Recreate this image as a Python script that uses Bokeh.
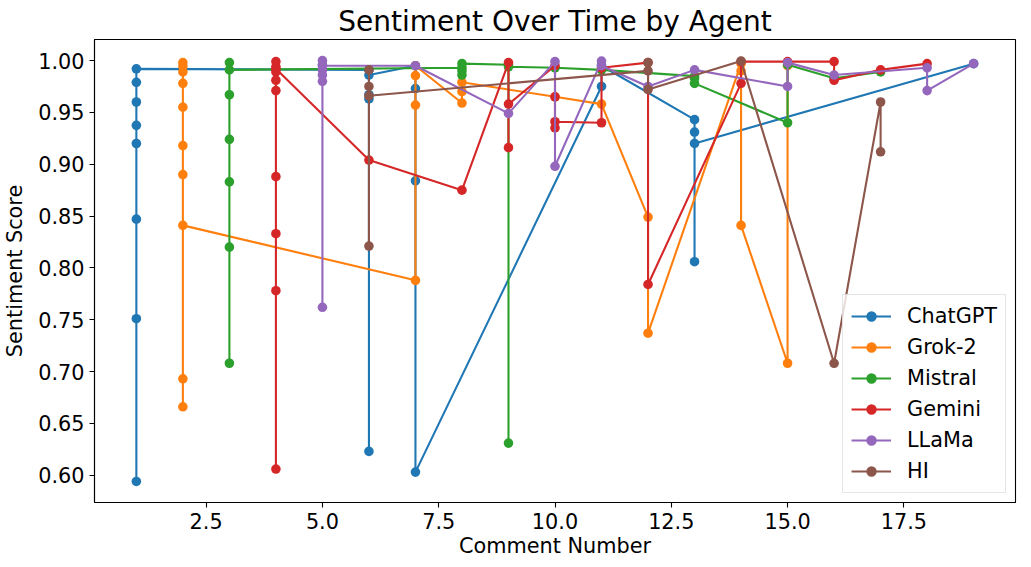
from bokeh.plotting import figure
from bokeh.models import FixedTicker, NumeralTickFormatter, Range1d
from bokeh.embed import file_html
from bokeh.resources import INLINE

agents = ["ChatGPT", "Grok-2", "Mistral", "Gemini", "LLaMa", "HI"]
colors = ["#1f77b4", "#ff7f0e", "#2ca02c", "#d62728", "#9467bd", "#8c564b"]

chatgpt_x = [1]*8 + [6]*5 + [7]*4 + [11]*2 + [13]*4 + [19]
chatgpt_y = [0.594, 0.751, 0.847, 0.920, 0.9375, 0.960, 0.979, 0.992,
             0.991, 0.623, 0.963, 0.967, 0.986,
             0.995, 0.973, 0.884, 0.603,
             0.975, 0.995,
             0.943, 0.931, 0.806, 0.920,
             0.997]

grok_x = [2]*10 + [7]*4 + [8]*3 + [10] + [11] + [12]*2 + [14]*3 + [15]*2
grok_y = [0.998, 0.9945, 0.989, 0.978, 0.955, 0.918, 0.890, 0.693, 0.666, 0.841,
          0.788, 0.957, 0.9855, 0.995,
          0.959, 0.970, 0.979,
          0.965,
          0.958,
          0.849, 0.737,
          0.997, 0.990, 0.841,
          0.708, 0.995]

mistral_x = [3]*7 + [8]*4 + [9]*3 + [10] + [11] + [13]*3 + [15]*2 + [16] + [17]
mistral_y = [0.998, 0.967, 0.924, 0.883, 0.820, 0.708, 0.991,
             0.993, 0.986, 0.990, 0.997,
             0.996, 0.631, 0.994,
             0.993,
             0.991,
             0.985, 0.983, 0.978,
             0.940, 0.996,
             0.983,
             0.989]

gemini_x = [4]*10 + [6] + [8] + [9]*3 + [10]*4 + [11]*2 + [12]*2 + [14]*2 + [15] + [16]*2 + [17] + [18]
gemini_y = [0.999, 0.994, 0.989, 0.981, 0.971, 0.888, 0.833, 0.778, 0.606, 0.992,
            0.904,
            0.875,
            0.998, 0.916, 0.958,
            0.995, 0.935, 0.965, 0.941,
            0.940, 0.993,
            0.998, 0.784,
            0.978, 0.999,
            0.999,
            0.999, 0.981,
            0.991,
            0.997]

llama_x = [5]*7 + [7] + [9] + [10]*2 + [11]*2 + [12] + [13] + [15]*2 + [16] + [18]*2 + [19]
llama_y = [1.000, 0.996, 0.991, 0.986, 0.980, 0.762, 0.995,
           0.995,
           0.949,
           0.999, 0.898,
           0.9995, 0.995,
           0.975,
           0.991,
           0.975, 0.998,
           0.986,
           0.993, 0.971,
           0.997]

hi_x = [6]*4 + [12]*3 + [14] + [16] + [17]*2
hi_y = [0.991, 0.821, 0.975, 0.966,
        0.990, 0.998, 0.972,
        0.9995,
        0.708,
        0.960, 0.912]

series_x = [chatgpt_x, grok_x, mistral_x, gemini_x, llama_x, hi_x]
series_y = [chatgpt_y, grok_y, mistral_y, gemini_y, llama_y, hi_y]

x_ticks = [2.5, 5.0, 7.5, 10.0, 12.5, 15.0, 17.5]
y_ticks = [0.60, 0.65, 0.70, 0.75, 0.80, 0.85, 0.90, 0.95, 1.00]

FONT = "DejaVu Sans"

p = figure(width=1018, height=565, output_backend="svg", toolbar_location=None,
           title="Sentiment Over Time by Agent",
           x_range=Range1d(0.1, 19.9), y_range=Range1d(0.5737, 1.0203),
           min_border_left=84, min_border_right=3, min_border_top=32, min_border_bottom=63)

p.title.text_font = FONT
p.title.text_font_size = "28px"
p.title.text_font_style = "normal"
p.title.align = "center"
p.title.text_color = "black"
p.title.standoff = 4

for name, col, xs, ys in zip(agents, colors, series_x, series_y):
    p.line(xs, ys, line_color=col, line_width=2.1, legend_label=name)
    p.scatter(xs, ys, marker="circle", size=9.6, fill_color=col, line_color=col,
              line_width=0, legend_label=name)

p.xgrid.visible = False
p.ygrid.visible = False
p.outline_line_color = "black"
p.outline_line_width = 1.1
p.outline_line_alpha = 1.0

for ax in (p.xaxis[0], p.yaxis[0]):
    ax.axis_line_color = "black"
    ax.axis_line_width = 1.1
    ax.major_tick_line_color = "black"
    ax.major_tick_line_width = 1.1
    ax.major_tick_out = 5
    ax.major_tick_in = 0
    ax.minor_tick_line_color = None
    ax.major_label_text_font = FONT
    ax.major_label_text_font_size = "20.8px"
    ax.major_label_text_color = "black"
    ax.axis_label_text_font = FONT
    ax.axis_label_text_font_size = "20.8px"
    ax.axis_label_text_font_style = "normal"
    ax.axis_label_text_color = "black"
    ax.major_label_standoff = 5

p.xaxis[0].ticker = FixedTicker(ticks=x_ticks)
p.xaxis[0].formatter = NumeralTickFormatter(format="0.0")
p.yaxis[0].ticker = FixedTicker(ticks=y_ticks)
p.yaxis[0].formatter = NumeralTickFormatter(format="0.00")
p.xaxis[0].axis_label = "Comment Number"
p.yaxis[0].axis_label = "Sentiment Score"
p.xaxis[0].axis_label_standoff = 2
p.yaxis[0].axis_label_standoff = 8

lg = p.legend[0]
lg.location = "bottom_right"
lg.margin = 9
lg.padding = 8
lg.spacing = 5
lg.glyph_width = 40
lg.glyph_height = 26
lg.label_height = 26
lg.label_standoff = 16
lg.label_text_font = FONT
lg.label_text_font_size = "20.8px"
lg.label_text_color = "black"
lg.border_line_color = "#cccccc"
lg.border_line_width = 1
lg.background_fill_color = "white"
lg.background_fill_alpha = 0.8

open("out.html", "w").write(file_html(p, INLINE))
